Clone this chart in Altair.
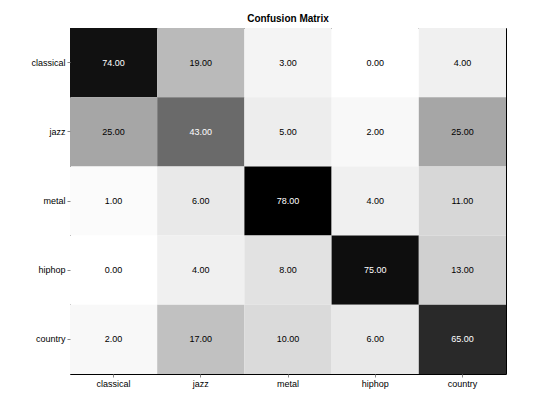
import altair as alt
import pandas as pd

genres = ["classical", "jazz", "metal", "hiphop", "country"]
matrix = [
    [74, 19, 3, 0, 4],
    [25, 43, 5, 2, 25],
    [1, 6, 78, 4, 11],
    [0, 4, 8, 75, 13],
    [2, 17, 10, 6, 65],
]

rows = []
for i, actual in enumerate(genres):
    for j, pred in enumerate(genres):
        rows.append({"actual": actual, "pred": pred, "value": matrix[i][j]})
df = pd.DataFrame(rows)
df["label"] = df["value"].map(lambda v: f"{v:.2f}")

base = alt.Chart(df).encode(
    x=alt.X("pred:N", sort=genres, title=None,
            axis=alt.Axis(labelAngle=0, labelFontSize=9, tickSize=3, domain=False,
                          labelColor="black", labelFont="Liberation Sans")),
    y=alt.Y("actual:N", sort=genres, title=None,
            axis=alt.Axis(labelFontSize=9, tickSize=3, domain=False,
                          labelColor="black", labelFont="Liberation Sans")),
)

cells = base.mark_rect().encode(
    color=alt.Color("value:Q", scale=alt.Scale(domain=[0, 78], range=["#ffffff", "#000000"]),
                    legend=None)
)

text = base.mark_text(fontSize=9, font="Liberation Sans").encode(
    text="label:N",
    color=alt.condition(alt.datum.value > 39, alt.value("white"), alt.value("black")),
)

chart = (
    alt.layer(cells, text)
    .properties(
        width=436, height=346,
        title=alt.TitleParams("Confusion Matrix", fontSize=10, fontWeight="bold",
                              font="Liberation Sans", offset=4),
        padding={"left": 22, "top": 6, "right": 10, "bottom": 5},
    )
    .configure_view(stroke="black", strokeWidth=1)
    .configure_scale(bandPaddingInner=0, bandPaddingOuter=0)
)

chart.save("out.html", embed_options={"renderer": "svg", "actions": False})
